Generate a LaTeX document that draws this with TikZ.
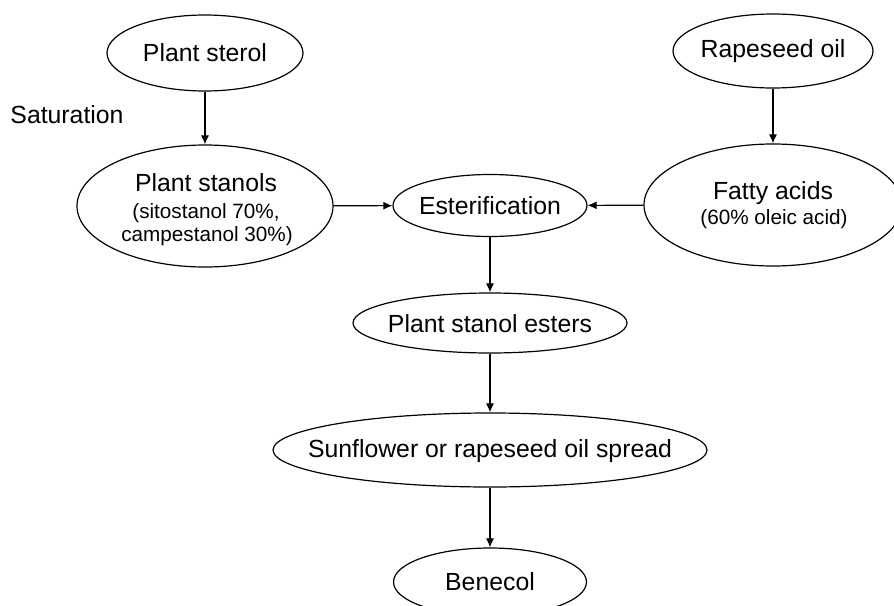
\documentclass[tikz,border=0pt]{standalone}
\usepackage{fontspec}
\setmainfont{Liberation Sans}
\usetikzlibrary{shapes.geometric,arrows.meta}
\begin{document}
\begin{tikzpicture}[x=1pt,y=-1pt,
  oval/.style={draw, ellipse, line width=1.2pt, inner sep=0pt},
  big/.style={font=\fontsize{24.8}{29}\selectfont, inner sep=0pt},
  small/.style={font=\fontsize{20.7}{24}\selectfont, inner sep=0pt},
  arr/.style={-{Latex[length=9pt,width=8pt]}, line width=1.1pt}]
\useasboundingbox (0,0) rectangle (894,605);
\fill[white] (0,0) rectangle (894,605);
% ovals
\node[oval, minimum width=196pt, minimum height=76pt] (sterol) at (205,53) {};
\node[oval, minimum width=256pt, minimum height=122pt] (stanols) at (205,206) {};
\node[oval, minimum width=200pt, minimum height=74pt] (rape) at (773,51) {};
\node[oval, minimum width=258pt, minimum height=122pt] (fatty) at (773,205) {};
\node[oval, minimum width=194pt, minimum height=62pt] (ester) at (490,205.5) {};
\node[oval, minimum width=274pt, minimum height=60pt] (esters) at (490,323) {};
\node[oval, minimum width=434pt, minimum height=74pt] (spread) at (490,450) {};
\node[oval, minimum width=193pt, minimum height=68pt] (benecol) at (490,582) {};
% texts
\node[big] (tsterol) at (205,53) {Plant sterol};
\node[big] (trape) at (773,51) {Rapeseed oil};
\node[big] (t1) at (206,183) {Plant stanols};
\node[small] (t2) at (206,213) {(sitostanol 70\%,};
\node[small] (t3) at (207,236) {campestanol 30\%)};
\node[big] (t4) at (773,193) {Fatty acids};
\node[small] (t5) at (774,219) {(60\% oleic acid)};
\node[big] (tester) at (490,205.5) {Esterification};
\node[big] (testers) at (490,324) {Plant stanol esters};
\node[big] (tspread) at (490,451) {Sunflower or rapeseed oil spread};
\node[big] (tbenecol) at (490,582) {Benecol};
\node[big] (sat) at (67,115) {Saturation};
% connectors
\draw[arr] (sterol) -- (stanols);
\draw[arr] (rape) -- (fatty);
\draw[arr] (stanols) -- (ester);
\draw[arr] (fatty) -- (ester);
\draw[arr] (ester) -- (esters);
\draw[arr] (esters) -- (spread);
\draw[arr] (spread) -- (benecol);
\end{tikzpicture}
\end{document}
